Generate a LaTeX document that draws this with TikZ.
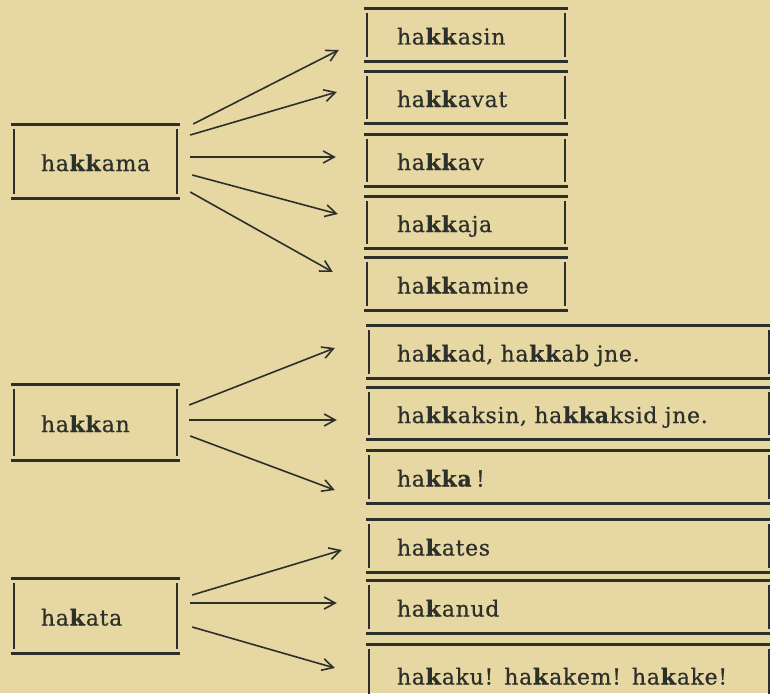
\documentclass[tikz,border=0pt]{standalone}
\usepackage{fontspec}
\setmainfont{DejaVu Serif}[LetterSpace=3, FakeBold=0.6, WordSpace=1.4]
\usetikzlibrary{arrows.meta,calc}
\definecolor{paper}{RGB}{231,216,163}
\definecolor{ink}{RGB}{44,48,42}
\newcommand{\kb}[1]{\textbf{#1}}
\begin{document}
\begin{tikzpicture}[x=1pt,y=-1pt,
  bx/.style={rectangle, inner xsep=0pt, inner ysep=0pt, align=left, text=ink,
    font=\fontsize{22}{26}\selectfont, text height=21pt, text depth=2pt},
  lbox/.style={bx, minimum width=169pt, text width=109pt},
  cbox/.style={bx, minimum width=204pt, minimum height=51pt, text width=138pt},
  wbox/.style={bx, minimum width=406pt, minimum height=52pt, text width=344pt},
  hl/.style={draw=ink, line width=2.8pt},
  vl/.style={draw=ink, line width=2.4pt},
  arr/.style={draw=ink, line width=1.6pt, -{Straight Barb[length=11pt,width=12pt,line width=1.6pt]}}]
\useasboundingbox (0,0) rectangle (770,693);
\fill[paper] (0,0) rectangle (770,693);
\clip (0,0) rectangle (770,693);

% left boxes
\node[lbox, minimum height=73pt] (hakkama) at (95.5,161.5) {ha\kb{kk}ama};
\node[lbox, minimum height=75pt] (hakkan) at (95.5,422.5) {ha\kb{kk}an};
\node[lbox, minimum height=74pt] (hakata) at (95.5,616) {ha\kb{k}ata};

% first column of right boxes
\node[cbox, minimum height=52pt] (hakkasin) at (466,35) {ha\kb{kk}asin};
\node[cbox] (hakkavat) at (466,97.5) {ha\kb{kk}avat};
\node[cbox] (hakkav) at (466,160.5) {ha\kb{kk}av};
\node[cbox] (hakkaja) at (466,222.5) {ha\kb{kk}aja};
\node[cbox, minimum height=52pt] (hakkamine) at (466,284) {ha\kb{kk}amine};

% wide boxes
\node[wbox] (hakkad) at (569,352) {ha\kb{kk}ad, ha\kb{kk}ab jne.};
\node[wbox, minimum height=51pt] (hakkaksin) at (569,413.5) {ha\kb{kk}aksin, ha\kb{kka}ksid jne.};
\node[wbox] (hakka) at (569,477) {ha\kb{kka}\,!};
\node[wbox] (hakates) at (569,546) {ha\kb{k}ates};
\node[wbox] (hakanud) at (569,607) {ha\kb{k}anud};
\node[wbox, minimum height=60pt] (hakaku) at (569,675) {ha\kb{k}aku! ha\kb{k}akem! ha\kb{k}ake!};

% frames
\foreach \n in {hakkama,hakkan,hakata,hakkasin,hakkavat,hakkav,hakkaja,hakkamine,hakkad,hakkaksin,hakka,hakates,hakanud,hakaku}{
  \draw[hl] (\n.north west) -- (\n.north east);
  \draw[hl] (\n.south west) -- (\n.south east);
  \draw[vl] ([shift={(3,4)}]\n.north west) -- ([shift={(3,-4)}]\n.south west);
  \draw[vl] ([shift={(-3,4)}]\n.north east) -- ([shift={(-3,-4)}]\n.south east);
}

% arrows from hakkama
\draw[arr] ([shift={(13,-37.5)}]hakkama.east) -- ([shift={(-25,15)}]hakkasin.west);
\draw[arr] ([shift={(10,-26.5)}]hakkama.east) -- ([shift={(-27,-5.5)}]hakkavat.west);
\draw[arr] ([shift={(10,-4.5)}]hakkama.east) -- ([shift={(-28,-3.5)}]hakkav.west);
\draw[arr] ([shift={(12,13.5)}]hakkama.east) -- ([shift={(-26,-8.5)}]hakkaja.west);
\draw[arr] ([shift={(10,30.5)}]hakkama.east) -- ([shift={(-31,-12)}]hakkamine.west);

% arrows from hakkan
\draw[arr] ([shift={(9,-17.5)}]hakkan.east) -- ([shift={(-31,-4)}]hakkad.west);
\draw[arr] ([shift={(9,-2.5)}]hakkan.east) -- ([shift={(-29,6.5)}]hakkaksin.west);
\draw[arr] ([shift={(10,13.5)}]hakkan.east) -- ([shift={(-31,13)}]hakka.west);

% arrows from hakata
\draw[arr] ([shift={(12,-21)}]hakata.east) -- ([shift={(-24,4)}]hakates.west);
\draw[arr] ([shift={(10,-13)}]hakata.east) -- ([shift={(-29,-4)}]hakanud.west);
\draw[arr] ([shift={(12,11)}]hakata.east) -- ([shift={(-31,-7)}]hakaku.west);
\end{tikzpicture}
\end{document}
